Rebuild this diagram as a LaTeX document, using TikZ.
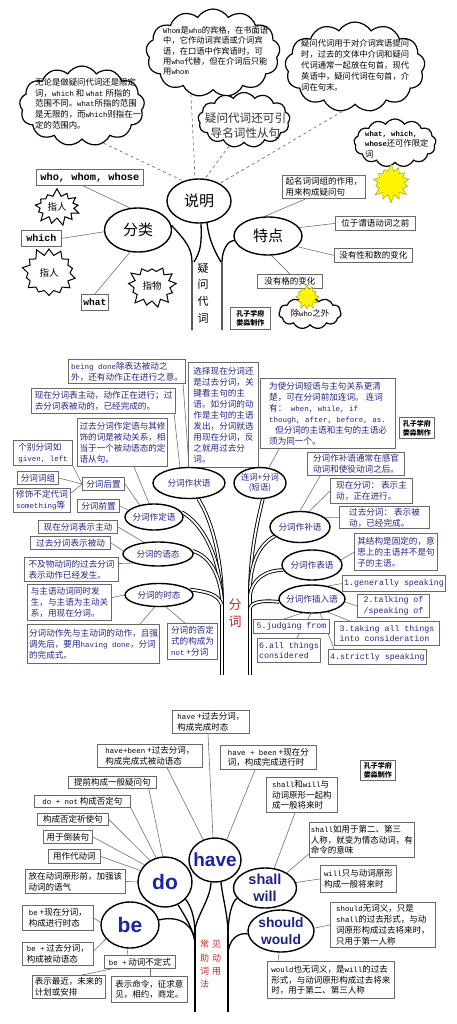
\documentclass[tikz,border=0pt]{standalone}
\usepackage{fontspec}
\setmainfont{Noto Sans CJK SC}
\newfontfamily\monof[Scale=0.87]{Liberation Mono}
\newfontfamily\monofull{Liberation Mono}
\newfontfamily\sansf{Liberation Sans}
\usetikzlibrary{shapes.geometric,shapes.symbols,backgrounds}
\newcommand\m[1]{{\monof #1}}
\definecolor{bgray}{RGB}{105,105,105}
\definecolor{lgray}{RGB}{115,115,115}
\definecolor{navy}{RGB}{38,38,135}
\definecolor{hblue}{RGB}{25,35,175}
\definecolor{wblue}{RGB}{32,32,140}
\definecolor{redt}{RGB}{200,40,40}
\definecolor{ystar}{RGB}{255,245,0}
\newcommand\ellnode[7]{\node[el, minimum width=#4pt, minimum height=#5pt] (#1) at (#2,#3) {};
  \node[align=center, inner sep=0pt, #6] (#1-t) at (#1) {#7};}
\begin{document}
\begin{tikzpicture}[x=1pt,y=-1pt,
  bx/.style={draw=bgray, line width=0.8pt, fill=white, anchor=north west, inner xsep=1.5pt, inner ysep=1pt, align=left, font=\fontsize{8.5}{10.8}\selectfont},
  bx2/.style={bx, line width=1.1pt, text=navy, font=\fontsize{8.6}{11}\selectfont},
  ebx/.style={bx2, font=\monofull\fontsize{8.3}{10.6}\selectfont},
  el/.style={ellipse, draw, line width=1.4pt, fill=white, inner sep=0pt},
  ln/.style={draw=lgray, line width=0.6pt},
  dl/.style={draw=lgray, line width=0.7pt, dashed},
  tr/.style={line width=1.3pt},
  tr2/.style={double, line width=0.9pt, double distance=1.8pt},
  cl/.style={cloud, cloud puffs=13, cloud puff arc=115, cloud ignores aspect, draw, line width=1.2pt, fill=white, inner sep=0pt},
  ctext/.style={anchor=north west, inner sep=0pt, align=left, font=\fontsize{8.4}{10.8}\selectfont},
  sb/.style={starburst, starburst points=13, starburst point height=8pt, random starburst=7, draw, line width=1pt, fill=white, inner sep=0pt},
  ys/.style={sb, fill=ystar, draw=ystar!65!black, line width=0.5pt},
  mk/.style={bx, font=\bfseries\fontsize{7}{9}\selectfont}
]
\useasboundingbox (0,0) rectangle (457,1024);

%%%%%%%%%%%%%%%% SECTION 1 %%%%%%%%%%%%%%%%
\node[cl, minimum width=125pt, minimum height=80pt] (cA) at (82,106) {};
\node[cl, minimum width=134pt, minimum height=88pt] (cB) at (213,53) {};
\node[cl, minimum width=140pt, minimum height=90pt] (cC) at (355,67) {};
\node[cl, minimum width=92pt, minimum height=55pt] (cD) at (244,120) {};
\node[cl, minimum width=82pt, minimum height=48pt] (cE) at (395,143) {};
\node[ctext] (cAt) at (35,78) {无论是做疑问代词还是限定\\词，\m{which} 和 \m{what} 所指的\\范围不同。\m{what}所指的范围\\是无限的，而\m{which}则指在一\\定的范围内。};
\node[ctext, font=\fontsize{8.3}{10.4}\selectfont] (cBt) at (163,26) {\m{Whom}是\m{who}的宾格，在书面语\\中，它作动词宾语或介词宾\\语，在口语中作宾语时，可\\用\m{who}代替，但在介词后只能\\用\m{whom}};
\node[ctext, font=\fontsize{8.3}{11}\selectfont] (cCt) at (301,39) {疑问代词用于对介词宾语提问\\时，过去的文体中介词和疑问\\代词通常一起放在句首，现代\\英语中，疑问代词在句首，介\\词在句末。};
\node[align=center, inner sep=0pt, text=black!80, font=\fontsize{11.6}{15}\selectfont] (cDt) at (245.5,126) {疑问代词还可引\\导名词性从句};
\node[ctext, font=\fontsize{8.3}{10.3}\selectfont] (cEt) at (365,131) {\m{\bfseries what, which,}\\\m{\bfseries whose}还可作限定\\词};

\node[ys, minimum width=42pt, minimum height=40pt, starburst points=14] (ys1) at (391,183) {};

\ellnode{sm}{199}{201}{64}{44}{font=\fontsize{15}{15}\selectfont}{说明}
\ellnode{fl}{138}{230}{67}{44}{font=\fontsize{15}{15}\selectfont}{分类}
\ellnode{td}{268}{236}{68}{38}{font=\fontsize{15}{15}\selectfont}{特点}

\node[align=center, inner sep=0pt, font=\fontsize{11}{16.6}\selectfont] (yiwen) at (203,293) {疑\\问\\代\\词};

\node[bx, minimum width=107pt, minimum height=16pt, font=\monofull\bfseries\fontsize{10.3}{12}\selectfont] (who) at (36,169) {who, whom, whose};
\node[bx, minimum width=40pt, minimum height=16pt, font=\monofull\bfseries\fontsize{10}{12}\selectfont] (which) at (21,230) {which};
\node[bx, minimum width=27pt, minimum height=16pt, font=\monofull\bfseries\fontsize{9.5}{12}\selectfont] (what) at (81,294) {what};

\node[sb, minimum width=50pt, minimum height=38pt] (st1) at (57,207) {};
\node[font=\fontsize{9.5}{10}\selectfont, inner sep=0pt] (st1t) at (st1) {指人};
\node[sb, minimum width=58pt, minimum height=52pt, starburst points=14, random starburst=11] (st2) at (49,273) {};
\node[font=\fontsize{9.5}{10}\selectfont, inner sep=0pt] (st2t) at (st2) {指人};
\node[sb, minimum width=52pt, minimum height=46pt, random starburst=23] (st3) at (152,286) {};
\node[font=\fontsize{9.5}{10}\selectfont, inner sep=0pt] (st3t) at (st3) {指物};

\node[bx, minimum width=83pt, minimum height=23pt] (t1) at (282,175) {起名词词组的作用，\\用来构成疑问句};
\node[bx, minimum width=80pt, minimum height=14pt] (t2) at (335,216) {位于谓语动词之前};
\node[bx, minimum width=78pt, minimum height=14pt] (t3) at (334,248) {没有性和数的变化};
\node[bx, minimum width=65pt, minimum height=14pt] (t4) at (257,274) {没有格的变化};
\node[mk, minimum width=40pt, minimum height=22pt] (k1) at (230,307) {孔子学府\\娄淼制作};
\node[cl, minimum width=62pt, minimum height=32pt, cloud puffs=11] (cF) at (310,313) {};
\node[inner sep=0pt, font=\fontsize{8.4}{10}\selectfont] (cFt) at (cF) {除\m{who}之外};
\node[ys, minimum width=26pt, minimum height=26pt, starburst points=12, starburst point height=5pt] (ys2) at (307,297) {};

%%%%%%%%%%%%%%%% SECTION 2 %%%%%%%%%%%%%%%%
\node[bx2, minimum width=117pt, minimum height=24pt] (s1) at (68,359) {\m{being done}除表达被动之\\外，还有动作正在进行之意。};
\node[bx2, minimum width=144pt, minimum height=25pt] (s2) at (31,388) {现在分词表主动，动作正在进行；过\\去分词表被动的，已经完成的。};
\node[bx2, minimum width=90pt, minimum height=48pt] (s3) at (77,418) {过去分词作定语与其修\\饰的词是被动关系，相\\当于一个被动语态的定\\语从句。};
\node[bx2, minimum width=70pt, minimum height=105pt] (s4) at (188,362) {选择现在分词还\\是过去分词，关\\键看主句的主\\语。如分词的动\\作是主句的主语\\发出，分词就选\\用现在分词，反\\之就用过去分\\词。};
\node[bx2, minimum width=135pt, minimum height=70pt] (s5) at (260,378) {为使分词短语与主句关系更清\\楚，可在分词前加连词。\ 连词\\有：\m{\ when, while, if}\\\m{though, after, before, as.}\\\hspace*{6pt}但分词的主语和主句的主语必\\须为同一个。};
\node[mk, minimum width=35pt, minimum height=21pt] (k2) at (399,417) {孔子学府\\娄淼制作};
\node[bx2, minimum width=59pt, minimum height=25pt] (s6) at (13,440) {个别分词如\\\m{given, left}};
\node[bx2, minimum width=41pt, minimum height=13pt] (s7) at (17,471) {分词词组};
\node[bx2, minimum width=57pt, minimum height=24pt] (s8) at (13,488) {修饰不定代词\\\m{something}等};
\node[bx2, minimum width=42pt, minimum height=13pt] (s9) at (82,477) {分词后置};
\node[bx2, minimum width=42pt, minimum height=13pt] (s10) at (77,499) {分词前置};
\node[bx2, minimum width=97pt, minimum height=23pt] (s11) at (307,452) {分词作补语通常在感官\\动词和使役动词之后。};
\node[bx2, minimum width=82pt, minimum height=25pt] (s12) at (330,478) {现在分词：\ 表示主\\动，正在进行。};
\node[bx2, minimum width=90pt, minimum height=22pt] (s13) at (339,506) {过去分词：\ 表示被\\动，已经完成。};
\node[bx2, minimum width=83pt, minimum height=37pt] (s14) at (354,533) {其结构是固定的，意\\思上的主语并不是句\\子的主语。};
\node[ebx, minimum width=103pt, minimum height=16pt] (g1) at (342,575) {1.generally speaking};
\node[ebx, minimum width=72pt, minimum height=23pt] (g2) at (357,594) {2.talking of\\/speaking of};
\node[ebx, minimum width=105pt, minimum height=24pt] (g3) at (334,621) {3.taking all things\\into consideration};
\node[ebx, minimum width=97pt, minimum height=15pt] (g4) at (328,649) {4.strictly speaking};
\node[ebx, minimum width=60pt, minimum height=24pt] (g6) at (257,638) {6.all things\\considered};
\node[ebx, minimum width=76pt, minimum height=14pt] (g5) at (253,619) {5.judging from};
\node[bx2, minimum width=79pt, minimum height=13pt] (s15) at (38,520) {现在分词表示主动};
\node[bx2, minimum width=80pt, minimum height=13pt] (s16) at (30,536) {过去分词表示被动};
\node[bx2, minimum width=94pt, minimum height=24pt] (s17) at (24,557) {不及物动词的过去分词\\表示动作已经发生。};
\node[bx2, minimum width=84pt, minimum height=36pt] (s18) at (27,584) {与主语动词同时发\\生，与主语为主动关\\系，用现在分词。};
\node[bx2, minimum width=132pt, minimum height=39pt] (s19) at (27,624) {分词动作先与主动词的动作，且强\\调先后，要用\m{having done}，分词\\的完成式。};
\node[bx2, minimum width=50pt, minimum height=36pt] (s20) at (167,623) {分词的否定\\式的构成为\\\m{not} +分词};

\ellnode{ezh}{189}{483}{72}{31}{text=navy, font=\fontsize{8.6}{10}\selectfont}{分词作状语}
\ellnode{elc}{260}{483}{52}{31}{text=navy, font=\fontsize{8.3}{10}\selectfont}{连词+分词\\(短语)}
\ellnode{edy}{154}{517}{58}{26}{text=navy, font=\fontsize{8.6}{10}\selectfont}{分词作定语}
\ellnode{eby}{300}{527}{60}{31}{text=navy, font=\fontsize{8.6}{10}\selectfont}{分词作补语}
\ellnode{ebi}{312}{565}{60}{30}{text=navy, font=\fontsize{8.6}{10}\selectfont}{分词作表语}
\ellnode{ech}{312}{599}{66}{28}{text=navy, font=\fontsize{8.6}{10}\selectfont}{分词作插入语}
\ellnode{eyt}{158}{554}{70}{24}{text=navy, font=\fontsize{8.6}{10}\selectfont}{分词的语态}
\ellnode{est}{159}{595}{68}{23}{text=navy, font=\fontsize{8.6}{10}\selectfont}{分词的时态}

\node[align=center, inner sep=0pt, text=redt, font=\fontsize{13}{17}\selectfont] (fenci) at (235,613) {分\\词};

%%%%%%%%%%%%%%%% SECTION 3 %%%%%%%%%%%%%%%%
\node[bx, minimum width=77pt, minimum height=23pt] (h1) at (172,710) {\m{have} +过去分词，\\构成完成时态};
\node[bx, minimum width=105pt, minimum height=23pt] (h2) at (97,744) {\m{have+been} +过去分词，\\构成完成式被动语态};
\node[bx, minimum width=96pt, minimum height=24pt] (h3) at (220,745) {\m{have + been} +现在分\\词，构成完成进行时};
\node[bx, minimum width=88pt, minimum height=12pt] (d1) at (68,776) {提前构成一般疑问句};
\node[bx, minimum width=96pt, minimum height=12pt] (d2) at (34,795) {\m{do + not} 构成否定句};
\node[bx, minimum width=71pt, minimum height=12pt] (d3) at (37,813) {构成否定祈使句};
\node[bx, minimum width=49pt, minimum height=13pt] (d4) at (43,830) {用于倒装句};
\node[bx, minimum width=52pt, minimum height=14pt] (d5) at (48,849) {用作代动词};
\node[bx, minimum width=100pt, minimum height=24pt] (d6) at (25,869) {放在动词原形前，加强该\\动词的语气};
\node[mk, minimum width=35pt, minimum height=20pt] (k3) at (360,760) {孔子学府\\娄淼制作};
\node[bx, minimum width=71pt, minimum height=35pt] (sh1) at (266,777) {\m{shall}和\m{will}与\\动词原形一起构\\成一般将来时};
\node[bx, minimum width=105pt, minimum height=35pt] (sh2) at (309,822) {\m{shall}如用于第二、第三\\人称，就变为情态动词，有\\命令的意味};
\node[bx, minimum width=76pt, minimum height=27pt] (w1) at (320,865) {\m{will}只与动词原形\\构成一般将来时};
\node[bx, minimum width=105pt, minimum height=45pt] (sd1) at (330,902) {\m{should}无词义，只是\\\m{shall}的过去形式，与动\\词原形构成过去将来时，\\只用于第一人称};
\node[bx, minimum width=127pt, minimum height=37pt] (wd1) at (267,961) {\m{would}也无词义，是\m{will}的过去\\形式，与动词原形构成过去将来\\时，用于第二、第三人称};
\node[bx, minimum width=71pt, minimum height=25pt] (b1) at (22,905) {\m{be} +现在分词，\\构成进行时态};
\node[bx, minimum width=71pt, minimum height=23pt] (b2) at (22,942) {\m{be +} 过去分词，\\构成被动语态};
\node[bx, minimum width=71pt, minimum height=13pt] (b3) at (104,955) {\m{be +} 动词不定式};
\node[bx, minimum width=73pt, minimum height=23pt] (b4) at (32,975) {表示最近，未来的\\计划或安排};
\node[bx, minimum width=76pt, minimum height=26pt] (b5) at (111,976) {表示命令，征求意\\见，相约，商定。};

\ellnode{ehave}{215}{860}{52}{44}{text=hblue, font=\sansf\bfseries\fontsize{19}{20}\selectfont}{have}
\ellnode{edo}{165}{882}{54}{50}{text=hblue, font=\sansf\bfseries\fontsize{21}{22}\selectfont}{do}
\ellnode{ebe}{130}{925}{58}{46}{text=hblue, font=\sansf\bfseries\fontsize{21}{22}\selectfont}{be}
\ellnode{eshall}{265}{888}{63}{40}{text=wblue, font=\sansf\bfseries\fontsize{14.5}{17}\selectfont}{shall\\will}
\ellnode{eshould}{281}{931}{66}{42}{text=wblue, font=\sansf\bfseries\fontsize{13.8}{17}\selectfont}{should\\would}

\node[anchor=north west, inner sep=0pt, align=left, text=redt, font=\fontsize{9}{13.3}\selectfont] (zhudong) at (200,940) {常\hspace{3pt}见\\助\hspace{3pt}动\\词\hspace{3pt}用\\法};

%%%%%%%%%%%%%%%% LINES (background) %%%%%%%%%%%%%%%%
\begin{scope}[on background layer]
\fill[white] (0,0) rectangle (457,1024);
% section 1
\draw[dl] (cA.-60) -- (sm.128);
\draw[dl] (cB.-118) -- (sm.100);
\draw[dl] (cD.-120) -- (sm.75);
\draw[dl] (cC.-106) -- (sm.40);
\draw[ln] ([xshift=-7pt]who.south) -- (fl.110);
\draw[ln] (which.east) -- (fl.183);
\draw[ln] (what.north) -- (fl.-110);
\draw[ln] (td.100) -- ([xshift=-18pt]t1.south);
\draw[ln] (td.15) -- (t2.west);
\draw[ln] (td.-20) -- (t3.west);
\draw[ln] (td.-80) -- (t4.north);
\draw[tr] (fl.8) .. controls (185,240) and (192,248) .. (192,262) -- (192,330);
\draw[tr] (sm.-85) .. controls (202,245) and (200,252) .. (194,262);
\draw[tr] (sm.-70) .. controls (209,240) and (215,252) .. (221,262);
\draw[tr] (td.188) .. controls (228,240) and (222,250) .. (222,262) -- (222,330);
% section 2
\draw[ln] ([xshift=-3pt]s1.south east) -- (ezh.north);
\draw[ln] ([xshift=-2pt]s2.south east) -- (ezh.120);
\draw[ln] ([xshift=12pt]s4.south west) -- (ezh.75);
\draw[ln] ([xshift=19pt]s5.south west) -- (elc.60);
\draw[ln] ([xshift=-34pt]s3.south east) -- (edy.110);
\draw[ln] (s9.east) -- (edy.140);
\draw[ln] (s10.east) -- (edy.165);
\draw[ln] (s6.south east) -- (s9.west);
\draw[ln] (s7.east) -- (s9.west);
\draw[ln] ([yshift=-5pt]s8.north east) -- (s9.west);
\draw[ln] ([xshift=13pt]s11.south west) -- (eby.north);
\draw[ln] (s12.west) -- (eby.60);
\draw[ln] (s13.west) -- (eby.20);
\draw[ln] (s14.west) -- (ebi.10);
\draw[ln] (g1.west) -- (ech.40);
\draw[ln] (g2.west) -- (ech.-5);
\draw[ln] ([xshift=16pt]g3.north west) -- (ech.-40);
\draw[ln] ([xshift=6pt]g4.north west) -- (ech.-60);
\draw[ln] ([xshift=31pt]g5.north west) -- (ech.-125);
\draw[ln] ([xshift=40pt]g6.north west) -- (ech.-95);
\draw[ln] (s15.east) -- (eyt.140);
\draw[ln] (s16.east) -- (eyt.175);
\draw[ln] ([yshift=6pt]s17.east) -- (eyt.-160);
\draw[ln] ([yshift=5pt]s18.east) -- (est.west);
\draw[ln] ([xshift=113pt]s19.north west) -- (est.-110);
\draw[ln] ([xshift=18pt]s20.north west) -- (est.-60);
\draw[tr2] (222,598) -- (222,675);
\draw[tr2] (250,590) -- (250,675);
\draw[tr2] (ezh.-60) .. controls (212,520) and (222,560) .. (222,600);
\draw[tr2] (edy.10) .. controls (205,525) and (220,560) .. (222,600);
\draw[tr2] (eyt.5) .. controls (210,556) and (220,575) .. (222,600);
\draw[tr2] (est.10) .. controls (208,592) and (218,594) .. (222,605);
\draw[tr2] (elc.-80) .. controls (255,530) and (250,560) .. (250,592);
\draw[tr2] (eby.-160) .. controls (258,545) and (250,565) .. (250,592);
\draw[tr2] (ebi.190) .. controls (265,570) and (252,580) .. (250,595);
\draw[tr2] (ech.185) .. controls (262,600) and (252,602) .. (250,608);
% section 3
\draw[ln] ([xshift=36pt]h1.south west) -- (ehave.95);
\draw[ln] ([xshift=70pt]h2.south west) -- (ehave.120);
\draw[ln] ([xshift=35pt]h3.south west) -- (ehave.60);
\draw[ln] ([xshift=-8pt]d1.south east) -- (edo.95);
\draw[ln] (d2.south east) -- (edo.110);
\draw[ln] (d3.east) -- (edo.125);
\draw[ln] (d4.east) -- (edo.140);
\draw[ln] (d5.east) -- (edo.155);
\draw[ln] (d6.east) -- (edo.west);
\draw[ln] ([xshift=29pt]sh1.south west) -- (eshall.65);
\draw[ln] ([yshift=4pt]sh2.south west) -- (eshall.35);
\draw[ln] (w1.west) -- (eshall.10);
\draw[ln] (sd1.west) -- (eshould.5);
\draw[ln] ([xshift=11pt]wd1.north west) -- (eshould.-95);
\draw[ln] (b1.east) -- (ebe.175);
\draw[ln] ([yshift=3pt]b2.east) -- (ebe.-150);
\draw[ln] ([xshift=23pt]b3.north west) -- (ebe.-95);
\draw[ln] ([xshift=50pt]b4.north west) -- ([xshift=8pt]b3.south west);
\draw[ln] ([xshift=39pt]b5.north west) -- ([xshift=46pt]b3.south west);
\draw[tr] (195,928) -- (195,1012);
\draw[tr] (228,935) -- (228,1012);
\draw[tr] (ebe.10) .. controls (180,915) and (195,925) .. (195,945);
\draw[tr] (edo.-40) .. controls (190,905) and (195,915) .. (195,935);
\draw[tr] (edo.-60) .. controls (182,912) and (192,925) .. (195,942);
\draw[tr] (ehave.-100) .. controls (210,900) and (197,915) .. (195,930);
\draw[tr] (ehave.-75) .. controls (223,900) and (228,915) .. (228,935);
\draw[tr] (eshall.200) .. controls (232,902) and (228,915) .. (228,938);
\draw[tr] (eshould.185) .. controls (238,932) and (228,940) .. (228,955);
\end{scope}
\end{tikzpicture}
\end{document}
